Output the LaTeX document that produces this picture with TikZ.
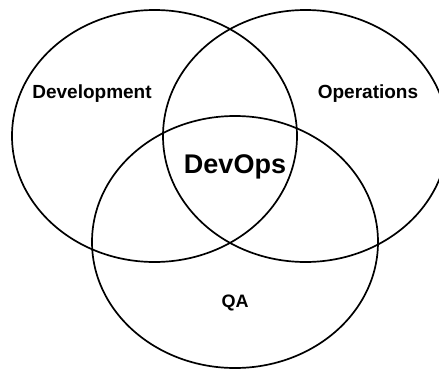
\documentclass[tikz,border=0pt]{standalone}
\usepackage{fontspec}
\setmainfont{Liberation Sans}
\usetikzlibrary{calc}
\tikzset{venn/.style={black,line width=1.7pt},
  lbl/.style={font=\bfseries\fontsize{19}{22}\selectfont, anchor=base, inner sep=0}}

\begin{document}
\begin{tikzpicture}[x=1pt,y=-1pt]
\useasboundingbox (0,0) rectangle (439,369);
\clip (0,0) rectangle (439,369);
\draw[venn] (154.5,136) ellipse (142.5pt and 126pt);
\draw[venn] (305.5,136) ellipse (142.5pt and 126pt);
\draw[venn] (235,242) ellipse (143pt and 126pt);
\node[lbl] (dev) at (92,99) {Development};
\node[lbl] (ops) at (368,99) {Operations};
\node[lbl, font=\bfseries\fontsize{27}{30}\selectfont] (devops) at (235,173) {DevOps};
\node[lbl, font=\bfseries\fontsize{18}{21}\selectfont] (qa) at (235,307) {QA};
\end{tikzpicture}
\end{document}
